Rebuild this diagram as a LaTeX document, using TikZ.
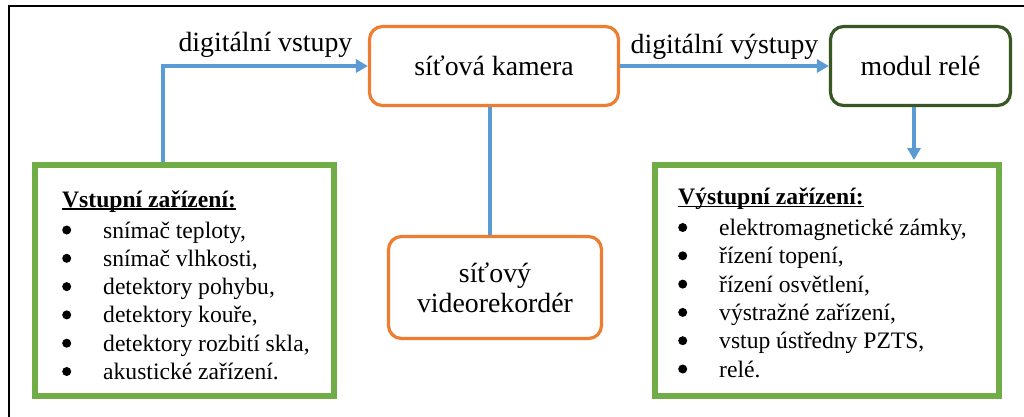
\documentclass[tikz,border=0pt]{standalone}
\usepackage{fontspec}
\setmainfont{Liberation Serif}
\usetikzlibrary{arrows.meta,calc}
\definecolor{linkblue}{HTML}{5B9BD5}
\definecolor{camorange}{HTML}{ED7D31}
\definecolor{reledark}{HTML}{385723}
\definecolor{listgreen}{HTML}{70AD47}
% bold heading with a rule close under the baseline
\newcommand\headline[1]{\setbox0\hbox{\bfseries #1}\rlap{\rule[-2.6pt]{\wd0}{1.3pt}}\box0}
% round list dot, drawn as a small filled circle
\newcommand\listdot{\tikz[baseline=0pt]\fill[black] (5pt,8pt) circle[radius=4.5pt];}
% bullet item with a fixed hanging indent
\newcommand\itm[1]{\makebox[41pt][l]{\smash{\listdot}}#1}

\begin{document}
\begin{tikzpicture}[x=1pt,y=-1pt,
  lbl/.style={font=\fontsize{27.8}{30}\selectfont},
  roundbox/.style={draw, line width=3.2pt, rounded corners=13pt, align=center,
                   inner sep=0pt, font=\fontsize{27.8}{30}\selectfont},
  listbox/.style={draw=listgreen, line width=6pt, inner sep=0pt},
  link/.style={draw=linkblue, line width=3.2pt},
  arr/.style={link, -{Triangle[length=12pt,width=13pt]}},
  listtext/.style={anchor=base west, align=left, inner sep=0pt,
                   font=\fontsize{23.6}{28.3}\selectfont}]

\useasboundingbox (0,0) rectangle (1024,416);
\fill[white] (0,0) rectangle (1024,416);
% page frame (only top and left edges visible)
\draw[line width=2.2pt] (9,420) -- (9,6) -- (1030,6);

% main blocks
\node[roundbox, draw=camorange, minimum width=249pt, minimum height=79pt] (cam) at (494,66) {síťová kamera};
\node[roundbox, draw=reledark, minimum width=180pt, minimum height=79pt] (rele) at (920.5,66) {modul relé};
\node[roundbox, draw=camorange, minimum width=213pt, minimum height=102pt] (nvr) at (495,287.5) {síťový\\videorekordér};

% device lists (frames, then text anchored on the last line's baseline)
\node[listbox, minimum width=299pt, minimum height=231pt] (inbox) at (184.5,280.5) {};
\node[listbox, minimum width=344pt, minimum height=231pt] (outbox) at (827,280.5) {};

\node[listtext] (inlist) at (62,379.5) {\headline{Vstupní zařízení:}\\[2.7pt]
  \itm{snímač teploty,}\\
  \itm{snímač vlhkosti,}\\
  \itm{detektory pohybu,}\\
  \itm{detektory kouře,}\\
  \itm{detektory rozbití skla,}\\
  \itm{akustické zařízení.}};

\node[listtext] (outlist) at (678,377) {\headline{Výstupní zařízení:}\\[2.7pt]
  \itm{elektromagnetické zámky,}\\
  \itm{řízení topení,}\\
  \itm{řízení osvětlení,}\\
  \itm{výstražné zařízení,}\\
  \itm{vstup ústředny PZTS,}\\
  \itm{relé.}};

% connector guide lines
\coordinate (iv) at (163,0);
\coordinate (cv) at (490,0);
\coordinate (rv) at (914,0);

% connectors
\draw[arr] (inbox.north -| iv) |- (cam.west)
  node[pos=0.75, anchor=base, yshift=15pt, lbl] (lblin) {digitální vstupy};
\draw[arr] (cam.east) -- (rele.west)
  node[midway, anchor=base, yshift=13pt, lbl] (lblout) {digitální výstupy};
\draw[link] (cam.south -| cv) -- (cv |- nvr.north);
\draw[arr, shorten >=2pt] (rele.south -| rv) -- (rv |- outbox.north);
\end{tikzpicture}
\end{document}
